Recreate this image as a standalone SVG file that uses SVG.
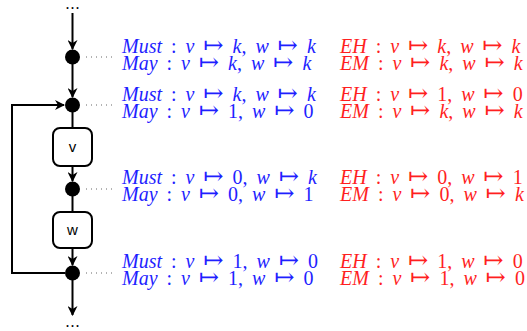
<svg xmlns="http://www.w3.org/2000/svg" width="527" height="331" viewBox="0 0 527 331">
<style>
.ln{stroke:#000;stroke-width:2;fill:none}
.dot{stroke:#666;stroke-width:1;stroke-dasharray:1 4;fill:none}
.box{fill:#fff;stroke:#000;stroke-width:2}
.lbl{font-family:"Liberation Sans",Arial,sans-serif;font-size:15px;text-anchor:middle}
.m{font-family:"Liberation Serif","DejaVu Serif",serif;font-size:20px;word-spacing:4px}
.b{fill:#1f1fff}
.r{fill:#ff1f1f}
.i{font-style:italic}
.a{font-family:"DejaVu Serif",serif;font-size:24px}
.dd{font-family:"Liberation Serif",serif;font-size:16px;text-anchor:middle;letter-spacing:1px}
</style>
<defs>
<marker id="ah" viewBox="0 0 10 10" refX="9" refY="5" markerWidth="5" markerHeight="5" orient="auto" markerUnits="strokeWidth">
<path d="M0,0 L10,5 L0,10 L3,5 Z" fill="#000"/>
</marker>
</defs>
<g id="connectors">
<path class="ln" d="M72.5,13 V49" marker-end="url(#ah)"/>
<path class="ln" d="M72.5,57 V97" marker-end="url(#ah)"/>
<path class="ln" d="M72.5,105 V128"/>
<path class="ln" d="M72.5,167 V181" marker-end="url(#ah)"/>
<path class="ln" d="M72.5,189 V213"/>
<path class="ln" d="M72.5,248 V265" marker-end="url(#ah)"/>
<path class="ln" d="M72.5,273 V315" marker-end="url(#ah)"/>
<path class="ln" d="M65,273 H12 V105 H64" marker-end="url(#ah)"/>
<path class="dot" d="M86,57 H116"/>
<path class="dot" d="M86,105 H116"/>
<path class="dot" d="M86,189 H116"/>
<path class="dot" d="M86,273 H116"/>
</g>
<g id="top-dots"><text class="dd" x="73" y="9">...</text></g>
<g id="bottom-dots"><text class="dd" x="73" y="327">...</text></g>
<g id="n1"><circle cx="72.5" cy="57" r="7.5"/></g>
<g id="n2"><circle cx="72.5" cy="105" r="7.5"/></g>
<g id="v"><rect class="box" x="53" y="128" width="39" height="38" rx="7"/><text class="lbl" x="72.5" y="152">v</text></g>
<g id="n3"><circle cx="72.5" cy="189" r="7.5"/></g>
<g id="w"><rect class="box" x="53" y="212" width="39" height="36" rx="7"/><text class="lbl" x="72.5" y="235">w</text></g>
<g id="n4"><circle cx="72.5" cy="273" r="7.5"/></g>
<g id="labels">
<text class="m b" x="122" y="53"><tspan class="i">Must</tspan> : <tspan class="i">v</tspan> <tspan class="a">↦</tspan> <tspan class="i">k</tspan>, <tspan class="i">w</tspan> <tspan class="a">↦</tspan> <tspan class="i">k</tspan></text>
<text class="m b" x="122" y="70"><tspan class="i">May</tspan> : <tspan class="i">v</tspan> <tspan class="a">↦</tspan> <tspan class="i">k</tspan>, <tspan class="i">w</tspan> <tspan class="a">↦</tspan> <tspan class="i">k</tspan></text>
<text class="m r" x="340" y="53"><tspan class="i">EH</tspan> : <tspan class="i">v</tspan> <tspan class="a">↦</tspan> <tspan class="i">k</tspan>, <tspan class="i">w</tspan> <tspan class="a">↦</tspan> <tspan class="i">k</tspan></text>
<text class="m r" x="340" y="70"><tspan class="i">EM</tspan> : <tspan class="i">v</tspan> <tspan class="a">↦</tspan> <tspan class="i">k</tspan>, <tspan class="i">w</tspan> <tspan class="a">↦</tspan> <tspan class="i">k</tspan></text>

<text class="m b" x="122" y="101"><tspan class="i">Must</tspan> : <tspan class="i">v</tspan> <tspan class="a">↦</tspan> <tspan class="i">k</tspan>, <tspan class="i">w</tspan> <tspan class="a">↦</tspan> <tspan class="i">k</tspan></text>
<text class="m b" x="122" y="118"><tspan class="i">May</tspan> : <tspan class="i">v</tspan> <tspan class="a">↦</tspan> 1, <tspan class="i">w</tspan> <tspan class="a">↦</tspan> 0</text>
<text class="m r" x="340" y="101"><tspan class="i">EH</tspan> : <tspan class="i">v</tspan> <tspan class="a">↦</tspan> 1, <tspan class="i">w</tspan> <tspan class="a">↦</tspan> 0</text>
<text class="m r" x="340" y="118"><tspan class="i">EM</tspan> : <tspan class="i">v</tspan> <tspan class="a">↦</tspan> <tspan class="i">k</tspan>, <tspan class="i">w</tspan> <tspan class="a">↦</tspan> <tspan class="i">k</tspan></text>

<text class="m b" x="122" y="184"><tspan class="i">Must</tspan> : <tspan class="i">v</tspan> <tspan class="a">↦</tspan> 0, <tspan class="i">w</tspan> <tspan class="a">↦</tspan> <tspan class="i">k</tspan></text>
<text class="m b" x="122" y="201"><tspan class="i">May</tspan> : <tspan class="i">v</tspan> <tspan class="a">↦</tspan> 0, <tspan class="i">w</tspan> <tspan class="a">↦</tspan> 1</text>
<text class="m r" x="340" y="184"><tspan class="i">EH</tspan> : <tspan class="i">v</tspan> <tspan class="a">↦</tspan> 0, <tspan class="i">w</tspan> <tspan class="a">↦</tspan> 1</text>
<text class="m r" x="340" y="201"><tspan class="i">EM</tspan> : <tspan class="i">v</tspan> <tspan class="a">↦</tspan> 0, <tspan class="i">w</tspan> <tspan class="a">↦</tspan> <tspan class="i">k</tspan></text>

<text class="m b" x="122" y="268"><tspan class="i">Must</tspan> : <tspan class="i">v</tspan> <tspan class="a">↦</tspan> 1, <tspan class="i">w</tspan> <tspan class="a">↦</tspan> 0</text>
<text class="m b" x="122" y="285"><tspan class="i">May</tspan> : <tspan class="i">v</tspan> <tspan class="a">↦</tspan> 1, <tspan class="i">w</tspan> <tspan class="a">↦</tspan> 0</text>
<text class="m r" x="340" y="268"><tspan class="i">EH</tspan> : <tspan class="i">v</tspan> <tspan class="a">↦</tspan> 1, <tspan class="i">w</tspan> <tspan class="a">↦</tspan> 0</text>
<text class="m r" x="340" y="285"><tspan class="i">EM</tspan> : <tspan class="i">v</tspan> <tspan class="a">↦</tspan> 1, <tspan class="i">w</tspan> <tspan class="a">↦</tspan> 0</text>
</g>
</svg>
